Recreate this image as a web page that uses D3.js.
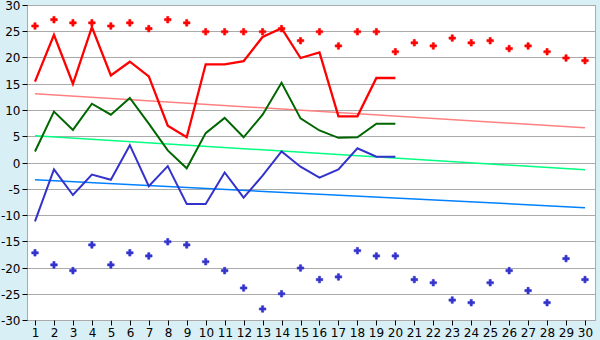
<!DOCTYPE html>
<html>
<head>
<meta charset="utf-8">
<script src="https://cdn.jsdelivr.net/npm/d3@7"></script>
<style>
  body { margin: 0; background: #d9eff6; }
  svg { display: block; }
  text { font-family: "DejaVu Sans", Verdana, sans-serif; font-size: 12px; fill: #000; }
</style>
</head>
<body>
<svg id="chart" width="600" height="340"></svg>
<script>
// days on the x axis
let days = d3.range(1, 31);

// dotted series (all 30 days)
let highs = [26.0, 27.2, 26.6, 26.6, 26.0, 26.6, 25.5, 27.2, 26.6, 24.9,
             24.9, 24.9, 24.9, 25.5, 23.2, 24.9, 22.2, 24.9, 24.9, 21.1,
             22.8, 22.2, 23.7, 22.8, 23.2, 21.7, 22.2, 21.1, 19.9, 19.4];
let lows = [-17.2, -19.5, -20.6, -15.7, -19.5, -17.2, -17.8, -15.1, -15.7, -18.9,
            -20.6, -23.9, -27.9, -25.0, -20.1, -22.3, -21.8, -16.8, -17.8, -17.8,
            -22.3, -22.9, -26.2, -26.7, -22.9, -20.6, -24.4, -26.7, -18.3, -22.3];

// line series (first 20 days)
let redLine = [15.4, 24.3, 15.0, 25.8, 16.6, 19.2, 16.4, 7.0, 4.8, 18.7,
               18.7, 19.3, 23.9, 25.6, 19.9, 20.95, 8.8, 8.8, 16.1, 16.1];
let greenLine = [2.1, 9.7, 6.2, 11.2, 9.1, 12.3, 7.4, 2.3, -1.1, 5.6,
                 8.5, 4.8, 9.1, 15.2, 8.4, 6.1, 4.7, 4.8, 7.4, 7.4];
let blueLine = [-11.2, -1.3, -6.2, -2.3, -3.3, 3.3, -4.5, -0.7, -7.9, -7.9,
                -1.9, -6.7, -2.5, 2.1, -0.8, -2.9, -1.3, 2.7, 1.1, 1.1];

// trend lines: value at day 1 and day 30
let trendRed = [13.1, 6.6];
let trendGreen = [5.1, -1.4];
let trendBlue = [-3.3, -8.6];

let yTicks = d3.range(-30, 31, 5);

let svg = d3.select('#chart');
let plot = { left: 27, top: 5, right: 595, bottom: 320 };

let x = d3.scaleLinear().domain([1, 30]).range([35, 585]);
let y = d3.scaleLinear().domain([-30, 30]).range([plot.bottom, plot.top]);

svg.append('rect')
  .attr('x', plot.left).attr('y', plot.top)
  .attr('width', plot.right - plot.left).attr('height', plot.bottom - plot.top)
  .attr('fill', '#fff');

// grid
svg.append('g').selectAll('line')
  .data(yTicks)
  .enter().append('line')
  .attr('x1', plot.left).attr('x2', plot.right)
  .attr('y1', d => Math.round(y(d)) + 0.5).attr('y2', d => Math.round(y(d)) + 0.5)
  .attr('stroke', '#aaaaaa');

svg.append('rect')
  .attr('x', plot.left + 0.5).attr('y', plot.top + 0.5)
  .attr('width', plot.right - plot.left).attr('height', plot.bottom - plot.top)
  .attr('fill', 'none').attr('stroke', '#aaaaaa');

// axes
let yAxis = d3.axisLeft(y).tickValues(yTicks).tickSize(5).tickPadding(2)
  .tickFormat(d => d);
let gy = svg.append('g').attr('transform', 'translate(' + (plot.left + 0.5) + ',0)').call(yAxis);

let xAxis = d3.axisBottom(x).tickValues(days).tickSize(5).tickPadding(3).tickFormat(d3.format('d'));
let gx = svg.append('g').attr('transform', 'translate(0,' + (plot.bottom + 0.5) + ')').call(xAxis);

[gy, gx].forEach(g => {
  g.select('.domain').remove();
  g.selectAll('line').attr('stroke', '#000');
  g.selectAll('text').style('font-size', '12px');
});
gy.selectAll('.tick').attr('transform', d => 'translate(0,' + (Math.round(y(d)) + 0.5) + ')');
gy.selectAll('text').attr('dy', '0.35em');
gx.selectAll('.tick').attr('transform', d => 'translate(' + (Math.round(x(d)) + 0.5) + ',0)');

// trend lines
let trends = [
  { v: trendRed, color: '#ff8080' },
  { v: trendGreen, color: '#00ff80' },
  { v: trendBlue, color: '#0080ff' }
];
svg.append('g').selectAll('line')
  .data(trends)
  .enter().append('line')
  .attr('x1', x(1)).attr('x2', x(30))
  .attr('y1', d => y(d.v[0])).attr('y2', d => y(d.v[1]))
  .attr('stroke', d => d.color).attr('stroke-width', 1.5);

// lines
let line = d3.line().x((d, i) => x(days[i])).y(d => y(d));
let lines = [
  { v: redLine, color: '#ff0000', w: 2.3 },
  { v: greenLine, color: '#006600', w: 2 },
  { v: blueLine, color: '#3333cc', w: 2 }
];
svg.append('g').selectAll('path')
  .data(lines)
  .enter().append('path')
  .attr('d', d => line(d.v))
  .attr('fill', 'none')
  .attr('stroke', d => d.color)
  .attr('stroke-width', d => d.w)
  .attr('stroke-linejoin', 'miter');

// markers
let cross = d3.symbol().type(d3.symbolCross).size(24);
let dots = [
  { v: highs, color: '#ff0000' },
  { v: lows, color: '#3333cc' }
];
dots.forEach(s => {
  svg.append('g').selectAll('path')
    .data(s.v)
    .enter().append('path')
    .attr('d', cross)
    .attr('transform', (d, i) => 'translate(' + x(days[i]) + ',' + y(d) + ')')
    .attr('fill', s.color)
    .attr('stroke', s.color).attr('stroke-width', 0.6);
});
</script>
</body>
</html>
